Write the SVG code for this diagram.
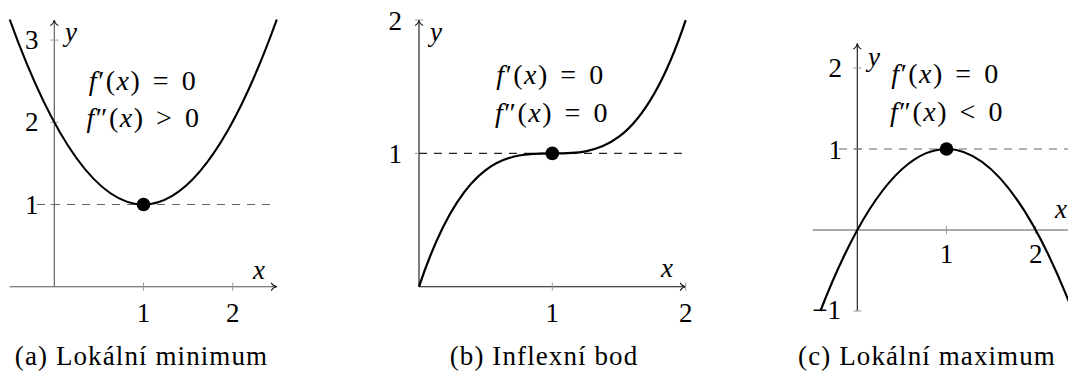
<svg xmlns="http://www.w3.org/2000/svg" width="1068" height="374" viewBox="0 0 1068 374" font-family="Liberation Serif, DejaVu Serif, serif">
<style>
text{font-family:'Liberation Serif','DejaVu Serif',serif;fill:#000;}
.t{font-size:27px;}
.m{font-size:28px;letter-spacing:1.5px;text-anchor:middle;word-spacing:3px;}
.i{font-style:italic;}
.cap{font-size:27px;letter-spacing:1.1px;text-anchor:middle;}
.ax{stroke-width:1.1;fill:none;}
.tick{stroke:#999;stroke-width:1;}
.dash{stroke-width:1.1;stroke-dasharray:8 7;fill:none;}
.curve{stroke:#000;stroke-width:2.2;fill:none;}
.mid{text-anchor:middle;}
.end{text-anchor:end;}
</style>
<defs>
<marker id="arr" markerUnits="userSpaceOnUse" markerWidth="12" markerHeight="12" refX="0" refY="0" viewBox="-7 -6 8 12" orient="auto" overflow="visible">
<path d="M-5.5,-4 C-4.5,-1.5 -1.8,-0.4 0,0 C-1.8,0.4 -4.5,1.5 -5.5,4" stroke="#111" stroke-width="1.1" fill="none"/>
</marker>
</defs>

<!-- Panel (a) -->
<g id="panel-a">
<g id="a-connectors">
<line class="ax" x1="9.7" y1="286.7" x2="276.8" y2="286.7" stroke="#555" marker-end="url(#arr)"/>
<line class="ax" x1="54.3" y1="286.7" x2="54.3" y2="20" stroke="#555" marker-end="url(#arr)"/>
<line class="tick" x1="143.5" y1="282.7" x2="143.5" y2="290.7"/>
<line class="tick" x1="232.7" y1="282.7" x2="232.7" y2="290.7"/>
<line class="tick" x1="50.3" y1="204.5" x2="58.3" y2="204.5"/>
<line class="tick" x1="50.3" y1="122.3" x2="58.3" y2="122.3"/>
<line class="tick" x1="50.3" y1="40.1" x2="58.3" y2="40.1"/>
<line class="dash" x1="37" y1="204.5" x2="276.8" y2="204.5" stroke="#666"/>
<path class="curve" d="M9.7,19.5 Q143.5,389.5 276.8,19.5"/>
</g>
<circle id="a-point" cx="143.5" cy="204.5" r="6.8" fill="#000"/>
<g id="a-labels">
<text class="t end" x="38.5" y="49">3</text>
<text class="t end" x="38.5" y="131">2</text>
<text class="t end" x="38.5" y="214">1</text>
<text class="t mid" x="143.5" y="322">1</text>
<text class="t mid" x="232.7" y="322">2</text>
<text class="t i mid" x="259" y="279">x</text>
<text class="t i" x="65" y="41">y</text>
<text class="m" x="143" y="90"><tspan class="i">f</tspan>′(<tspan class="i">x</tspan>) = 0</text>
<text class="m" x="143.5" y="127"><tspan class="i">f</tspan>″(<tspan class="i">x</tspan>) &gt; 0</text>
</g>
<text id="a-caption" class="cap" x="141.5" y="365">(a) Lokální minimum</text>
</g>

<!-- Panel (b) -->
<g id="panel-b">
<g id="b-connectors">
<line class="ax" x1="419" y1="286.7" x2="685.7" y2="286.7" stroke="#111" marker-end="url(#arr)"/>
<line class="ax" x1="419" y1="286.7" x2="419" y2="20" stroke="#111" marker-end="url(#arr)"/>
<line class="tick" x1="552.3" y1="282.7" x2="552.3" y2="290.7"/>
<line class="tick" x1="685.7" y1="282.7" x2="685.7" y2="290.7"/>
<line class="tick" x1="415" y1="153.4" x2="423" y2="153.4"/>
<line class="tick" x1="415" y1="20" x2="423" y2="20"/>
<line class="dash" x1="419" y1="153.4" x2="685.7" y2="153.4" stroke="#222"/>
<path class="curve" d="M419,286.7 C507.9,20.1 596.7,286.7 685.7,20.1"/>
</g>
<circle id="b-point" cx="552.3" cy="153.4" r="6.8" fill="#000"/>
<g id="b-labels">
<text class="t end" x="402" y="29.5">2</text>
<text class="t end" x="402" y="163">1</text>
<text class="t mid" x="552.3" y="322">1</text>
<text class="t mid" x="685.7" y="322">2</text>
<text class="t i mid" x="667" y="277">x</text>
<text class="t i" x="430" y="41">y</text>
<text class="m" x="550.5" y="84"><tspan class="i">f</tspan>′(<tspan class="i">x</tspan>) = 0</text>
<text class="m" x="552" y="122"><tspan class="i">f</tspan>″(<tspan class="i">x</tspan>) = 0</text>
</g>
<text id="b-caption" class="cap" x="544" y="365">(b) Inflexní bod</text>
</g>

<!-- Panel (c) -->
<g id="panel-c">
<g id="c-connectors">
<line class="ax" x1="812.7" y1="230" x2="1080" y2="230" stroke="#555" marker-end="url(#arr)"/>
<line class="ax" x1="857.3" y1="311" x2="857.3" y2="43.5" stroke="#111" marker-end="url(#arr)"/>
<line class="tick" x1="946.5" y1="226" x2="946.5" y2="234"/>
<line class="tick" x1="1035.7" y1="226" x2="1035.7" y2="234"/>
<line class="tick" x1="853.3" y1="311" x2="861.3" y2="311"/>
<line class="tick" x1="853.3" y1="149" x2="861.3" y2="149"/>
<line class="tick" x1="853.3" y1="68" x2="861.3" y2="68"/>
<line class="dash" x1="839" y1="149" x2="1068" y2="149" stroke="#666"/>
<path class="curve" d="M820.4,311 Q946.5,-13 1072.6,311"/>
</g>
<circle id="c-point" cx="946.5" cy="149" r="6.8" fill="#000"/>
<g id="c-labels">
<text class="t end" x="842" y="77">2</text>
<text class="t end" x="842" y="158.5">1</text>
<text class="t end" x="841" y="318.5">−1</text>
<text class="t mid" x="946.5" y="263">1</text>
<text class="t mid" x="1035.7" y="263">2</text>
<text class="t i" x="1055" y="218">x</text>
<text class="t i" x="868" y="66">y</text>
<text class="m" x="945.5" y="83"><tspan class="i">f</tspan>′(<tspan class="i">x</tspan>) = 0</text>
<text class="m" x="947" y="121"><tspan class="i">f</tspan>″(<tspan class="i">x</tspan>) &lt; 0</text>
</g>
<text id="c-caption" class="cap" x="927" y="365">(c) Lokální maximum</text>
</g>
</svg>
